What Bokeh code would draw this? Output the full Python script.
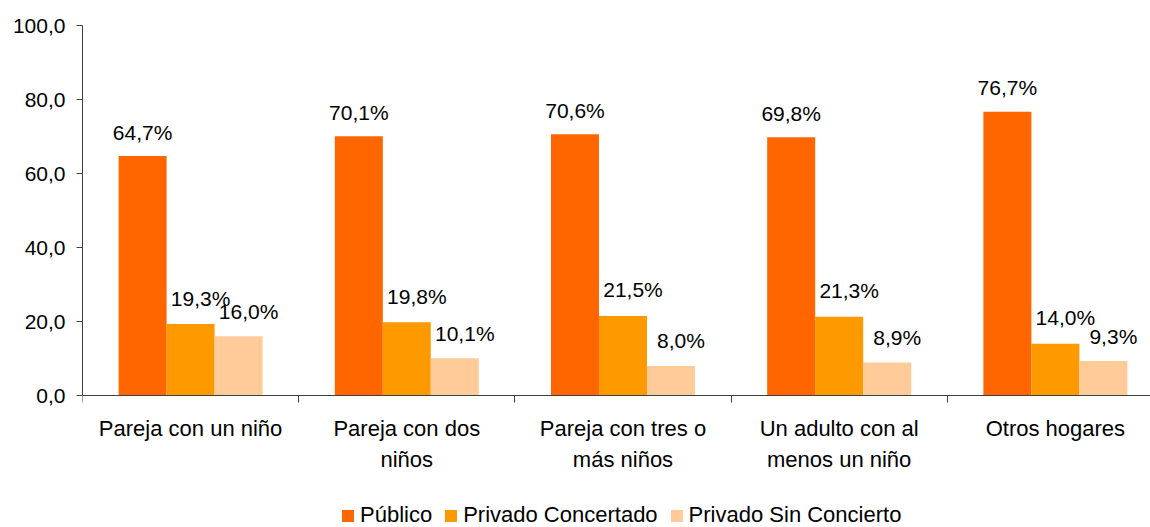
import numpy as np
from bokeh.plotting import figure
from bokeh.models import (ColumnDataSource, Range1d, FixedTicker, Legend, LegendItem)
from bokeh.embed import file_html
from bokeh.resources import INLINE

categories = ["Pareja con un niño", "Pareja con dos\nniños", "Pareja con tres o\nmás niños",
              "Un adulto con al\nmenos un niño", "Otros hogares"]
series_names = ["Público", "Privado Concertado", "Privado Sin Concierto"]
publico = [64.7, 70.1, 70.6, 69.8, 76.7]
concertado = [19.3, 19.8, 21.5, 21.3, 14.0]
sin_concierto = [16.0, 10.1, 8.0, 8.9, 9.3]
y_ticks = [0, 20, 40, 60, 80, 100]
y_tick_labels = ["0,0", "20,0", "40,0", "60,0", "80,0", "100,0"]

colors = ["#FF6600", "#FF9900", "#FFCC99"]
FONT = "Liberation Sans"

n = len(categories)
centers = np.arange(n) + 0.5
bw = 0.222
offsets = [-bw, 0.0, bw]
label_dx = [0, 10, 10]
label_dy = [-24, -26, -25]

FRAME_H = 502
PLOT_H = 370
y_min = -100.0 * (FRAME_H - PLOT_H) / PLOT_H

p = figure(frame_width=1068, frame_height=FRAME_H, output_backend="svg", toolbar_location=None,
           x_range=Range1d(0, 4.94), y_range=Range1d(y_min, 100),
           min_border_left=82, min_border_right=0, min_border_top=25, min_border_bottom=0)
p.outline_line_color = None
p.xgrid.grid_line_color = None
p.ygrid.grid_line_color = None
p.background_fill_color = "white"
p.border_fill_color = "white"

items = []
for vals, name, col, off, dx, dy in zip([publico, concertado, sin_concierto], series_names,
                                        colors, offsets, label_dx, label_dy):
    src = ColumnDataSource(dict(x=centers + off, top=vals,
                                lab=[("%.1f%%" % v).replace(".", ",") for v in vals]))
    r = p.vbar(x="x", top="top", bottom=0, width=bw, source=src, fill_color=col, line_color=None)
    p.text(x="x", y="top", text="lab", source=src, text_align="center", text_baseline="middle",
           x_offset=dx, y_offset=dy, text_font_size="21px", text_font={"value": FONT},
           text_color="black")
    items.append(LegendItem(label=name, renderers=[r]))

# x axis, fixed at y = 0
xa = p.xaxis[0]
xa.fixed_location = 0
xa.ticker = FixedTicker(ticks=list(centers), minor_ticks=list(np.arange(n + 1)))
xa.major_label_overrides = {float(c): lab for c, lab in zip(centers, categories)}
xa.major_tick_out = 0
xa.major_tick_in = 0
xa.minor_tick_out = 7
xa.minor_tick_in = 0
xa.minor_tick_line_color = "#404040"
xa.axis_line_color = "#404040"
xa.major_label_text_font = FONT
xa.major_label_text_font_size = "22px"
xa.major_label_text_color = "black"
xa.major_label_text_line_height = 1.26
xa.major_label_standoff = 13

# y axis
ya = p.yaxis[0]
ya.bounds = (0, 100)
ya.ticker = FixedTicker(ticks=y_ticks)
ya.major_label_overrides = {t: l for t, l in zip(y_ticks, y_tick_labels)}
ya.minor_tick_line_color = None
ya.major_tick_out = 6
ya.major_tick_in = 0
ya.major_tick_line_color = "#404040"
ya.axis_line_color = "#404040"
ya.major_label_text_font = FONT
ya.major_label_text_font_size = "21px"
ya.major_label_text_color = "black"
ya.major_label_standoff = 11

legend = Legend(items=items, orientation="horizontal", location=(258, -1),
                glyph_width=15, glyph_height=15, label_standoff=5, spacing=11,
                label_text_font=FONT, label_text_font_size="22px", label_text_color="black",
                padding=0, margin=0, border_line_color=None, background_fill_alpha=0)
p.add_layout(legend, "center")

open("out.html", "w").write(file_html(p, INLINE))
